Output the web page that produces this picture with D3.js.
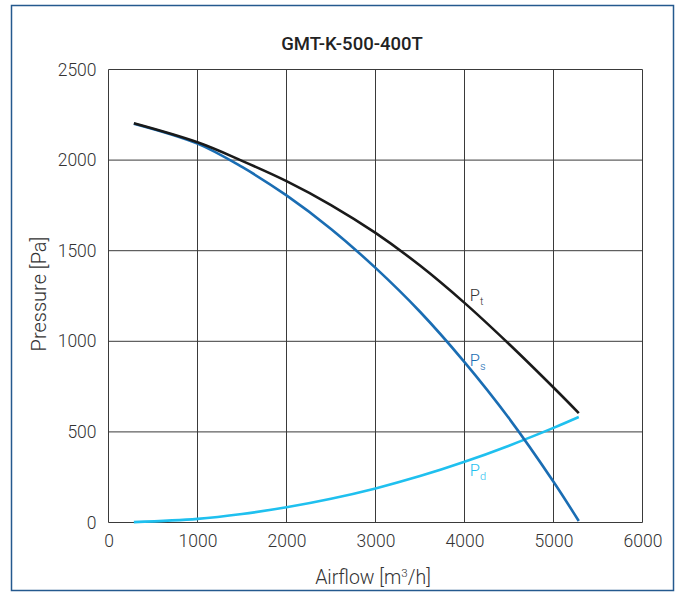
<!DOCTYPE html>
<html><head><meta charset="utf-8">
<script src="https://cdn.jsdelivr.net/npm/d3@7"></script>
<style>body{margin:0;background:#fff}svg{display:block}text{font-family:Roboto,sans-serif;font-weight:300;fill:#333}</style>
</head><body>
<script>
const title = "GMT-K-500-400T";
const xTicks = [0,1000,2000,3000,4000,5000,6000];
const yTicks = [0,500,1000,1500,2000,2500];
const airflow = [285,1000,1500,2000,2500,3000,3500,4000,4500,5000,5284];
const pTotal  = [2203,2098,1996,1884,1752,1598,1418,1212,985,745,604];
const pStatic = [2201,2091,1962,1805,1620,1405,1163,885,575,225,8];
const pDyn    = [2,20,47,84,131,188,256,335,424,522,582];

const W=683,H=595;
const FONT="Roboto,sans-serif";
const svg=d3.select("body").append("svg").attr("width",W).attr("height",H);
svg.append("rect").attr("x",11.5).attr("y",5.5).attr("width",662).attr("height",585)
  .attr("fill","none").attr("stroke","#24598e").attr("stroke-width",1.5);

const x=d3.scaleLinear().domain([0,6000]).range([108.5,642.5]);
const y=d3.scaleLinear().domain([0,2500]).range([522.5,69.5]);

const g=svg.append("g");
g.selectAll(".vg").data(xTicks).join("line").attr("x1",d=>x(d)).attr("x2",d=>x(d))
  .attr("y1",y(0)).attr("y2",y(2500)).attr("stroke","#3a3a3a").attr("stroke-width",1);
g.selectAll(".hg").data(yTicks).join("line").attr("y1",d=>y(d)).attr("y2",d=>y(d))
  .attr("x1",x(0)).attr("x2",x(6000)).attr("stroke","#3a3a3a").attr("stroke-width",1);

const xa=svg.append("g").attr("transform",`translate(0,${y(0)})`)
  .call(d3.axisBottom(x).tickValues(xTicks).tickSize(0).tickPadding(12).tickFormat(d3.format("d")));
const ya=svg.append("g").attr("transform",`translate(${x(0)},0)`)
  .call(d3.axisLeft(y).tickValues(yTicks).tickSize(0).tickPadding(12).tickFormat(d3.format("d")));
[xa,ya].forEach(a=>{a.select(".domain").remove();a.selectAll("text").attr("font-size",17.5).attr("fill","#333")
  .style("font-family",FONT).style("font-weight",300);});

const line=d3.line().curve(d3.curveCatmullRom.alpha(0.5));
const mk=(arr)=>airflow.map((a,i)=>[x(a),y(arr[i])]);
const series=[[pDyn,"#1fc0ef"],[pStatic,"#1a6db3"],[pTotal,"#1a1a1a"]];
series.forEach(([arr,c])=>{
  svg.append("path").attr("d",line(mk(arr))).attr("fill","none").attr("stroke",c).attr("stroke-width",2.6);
});

const labs=[["P","t","#333"],["P","s","#1a6db3"],["P","d","#1fc0ef"]];
const labY=[1225,865,255];
labs.forEach((l,i)=>{
  const t=svg.append("text").attr("x",x(4060)).attr("y",y(labY[i])).attr("font-size",16.5).style("fill",l[2]);
  t.append("tspan").text(l[0]);
  t.append("tspan").attr("font-size",11).attr("dy",4).text(l[1]);
});

svg.append("text").attr("x",352).attr("y",50).attr("text-anchor","middle").attr("font-size",18.5)
  .style("font-weight",500).style("fill","#222").text(title);
const xl=svg.append("text").attr("x",373).attr("y",584).attr("text-anchor","middle").attr("font-size",19.5);
xl.append("tspan").text("Airflow [m");
xl.append("tspan").attr("font-size",11.5).attr("dy",-7).text("3");
xl.append("tspan").attr("dy",7).text("/h]");
svg.append("text").attr("transform","translate(46,294) rotate(-90)").attr("text-anchor","middle")
  .attr("font-size",20).text("Pressure [Pa]");
</script>
</body></html>
